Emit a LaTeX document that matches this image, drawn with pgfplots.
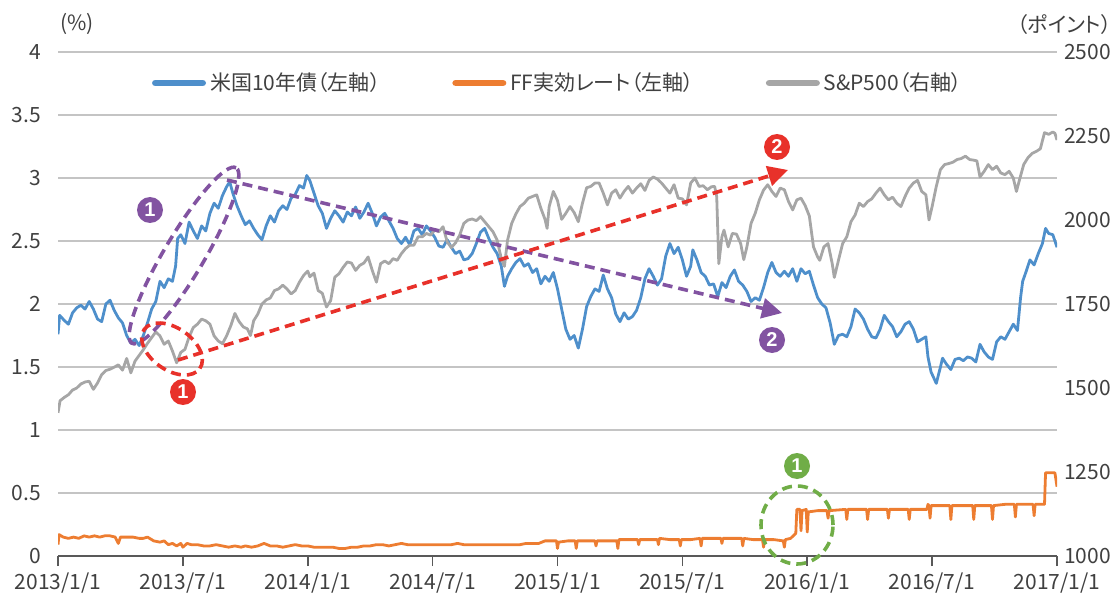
\documentclass[border=0pt]{standalone}
\usepackage{fontspec}
\setmainfont{Noto Sans CJK JP}[RawFeature=+palt]
\newfontfamily\numfont{Liberation Sans}
\usepackage{pgfplots}
\pgfplotsset{compat=1.18}
\usetikzlibrary{arrows.meta}
\definecolor{cblue}{HTML}{4E8FCB}
\definecolor{corange}{HTML}{ED7D31}
\definecolor{cgray}{HTML}{A6A6A6}
\definecolor{gridgray}{HTML}{C4C4C4}
\definecolor{axisgray}{HTML}{595959}
\definecolor{textgray}{HTML}{404040}
\definecolor{cpurple}{HTML}{8253A1}
\definecolor{cred}{HTML}{E8312A}
\definecolor{cgreen}{HTML}{70AD47}

\pgfplotstableread{
m v
0.00 1.76
0.08 1.91
0.3 1.87
0.5 1.84
0.7 1.93
0.9 1.97
1.1 1.99
1.3 1.96
1.5 2.02
1.7 1.96
1.9 1.88
2.1 1.86
2.3 2.00
2.5 2.03
2.7 1.95
2.9 1.89
3.1 1.85
3.3 1.75
3.5 1.69
3.7 1.72
3.9 1.67
4.1 1.75
4.3 1.85
4.5 1.96
4.7 2.02
4.9 2.18
5.1 2.13
5.3 2.20
5.5 2.18
5.65 2.30
5.75 2.52
5.9 2.55
6.1 2.48
6.3 2.65
6.5 2.58
6.7 2.52
6.9 2.62
7.1 2.58
7.3 2.72
7.5 2.80
7.7 2.76
7.9 2.86
8.1 2.93
8.25 2.97
8.4 2.88
8.6 2.78
8.8 2.70
9.0 2.63
9.2 2.66
9.4 2.60
9.6 2.55
9.8 2.51
10.0 2.62
10.2 2.70
10.4 2.65
10.6 2.74
10.8 2.78
11.0 2.75
11.2 2.84
11.4 2.87
11.6 2.94
11.8 2.92
11.95 3.02
12.1 2.98
12.3 2.88
12.5 2.78
12.7 2.72
12.9 2.60
13.1 2.68
13.3 2.74
13.5 2.70
13.7 2.65
13.9 2.73
14.1 2.70
14.3 2.77
14.5 2.68
14.7 2.73
14.9 2.80
15.1 2.72
15.3 2.62
15.5 2.69
15.7 2.72
15.9 2.66
16.1 2.60
16.3 2.52
16.5 2.48
16.7 2.53
16.9 2.47
17.1 2.58
17.3 2.60
17.5 2.55
17.7 2.62
17.9 2.58
18.1 2.53
18.3 2.46
18.5 2.45
18.7 2.51
18.9 2.45
19.1 2.40
19.3 2.42
19.5 2.35
19.7 2.36
19.9 2.40
20.1 2.48
20.3 2.57
20.5 2.60
20.7 2.52
20.9 2.45
21.1 2.40
21.3 2.30
21.45 2.14
21.6 2.22
21.8 2.28
22.0 2.33
22.2 2.36
22.4 2.30
22.6 2.32
22.8 2.25
23.0 2.28
23.2 2.16
23.4 2.22
23.6 2.18
23.8 2.25
24.0 2.12
24.2 1.96
24.4 1.80
24.6 1.72
24.8 1.75
25.0 1.65
25.2 1.80
25.4 1.98
25.6 2.06
25.8 2.12
26.0 2.10
26.2 2.23
26.4 2.12
26.6 2.05
26.8 1.92
27.0 1.86
27.2 1.93
27.4 1.88
27.6 1.90
27.8 1.95
28.0 2.05
28.2 2.20
28.4 2.28
28.6 2.22
28.8 2.15
29.0 2.20
29.2 2.38
29.4 2.48
29.6 2.40
29.8 2.45
30.0 2.35
30.2 2.22
30.4 2.30
30.5 2.43
30.7 2.35
30.9 2.25
31.1 2.22
31.3 2.15
31.5 2.16
31.7 2.06
31.9 2.17
32.1 2.13
32.3 2.22
32.5 2.27
32.7 2.18
32.9 2.15
33.1 2.10
33.3 2.02
33.5 2.05
33.7 2.03
33.9 2.13
34.1 2.25
34.3 2.33
34.5 2.25
34.7 2.22
34.9 2.26
35.1 2.22
35.3 2.28
35.5 2.18
35.7 2.28
35.9 2.24
36.1 2.26
36.3 2.15
36.5 2.05
36.7 2.00
36.9 1.97
37.1 1.85
37.3 1.68
37.5 1.75
37.7 1.76
37.9 1.74
38.1 1.82
38.3 1.96
38.5 1.93
38.7 1.88
38.9 1.80
39.1 1.74
39.3 1.73
39.5 1.80
39.7 1.91
39.9 1.86
40.1 1.82
40.3 1.74
40.5 1.78
40.7 1.84
40.9 1.86
41.1 1.80
41.3 1.70
41.5 1.72
41.7 1.74
41.8 1.58
41.95 1.46
42.2 1.37
42.4 1.50
42.5 1.57
42.7 1.52
42.9 1.48
43.1 1.56
43.3 1.57
43.5 1.55
43.7 1.58
43.9 1.57
44.1 1.54
44.3 1.68
44.5 1.62
44.7 1.58
44.9 1.56
45.1 1.70
45.3 1.74
45.5 1.72
45.7 1.78
45.9 1.84
46.1 1.79
46.25 2.05
46.35 2.18
46.5 2.25
46.7 2.35
46.9 2.31
47.1 2.40
47.3 2.48
47.45 2.60
47.6 2.56
47.8 2.55
47.9 2.50
48.0 2.45
}\tenyear

\pgfplotstableread{
m v
0.00 0.09
0.05 0.17
0.25 0.15
0.5 0.14
0.75 0.15
1.0 0.14
1.25 0.16
1.5 0.15
1.75 0.16
2.0 0.15
2.25 0.16
2.5 0.16
2.75 0.15
2.9 0.10
3.0 0.15
3.3 0.15
3.6 0.15
3.9 0.14
4.1 0.14
4.3 0.15
4.6 0.12
4.9 0.11
5.1 0.12
5.3 0.09
5.5 0.10
5.7 0.08
5.9 0.10
6.0 0.07
6.2 0.10
6.4 0.09
6.7 0.09
7.0 0.08
7.3 0.08
7.6 0.09
7.9 0.08
8.2 0.07
8.5 0.08
8.8 0.07
9.0 0.08
9.3 0.07
9.6 0.08
9.9 0.10
10.2 0.08
10.5 0.08
10.8 0.07
11.1 0.08
11.4 0.09
11.7 0.08
12.0 0.08
12.3 0.07
12.6 0.07
12.9 0.07
13.2 0.07
13.5 0.06
13.8 0.06
14.1 0.07
14.4 0.07
14.7 0.08
15.0 0.08
15.3 0.09
15.6 0.09
15.9 0.08
16.2 0.09
16.5 0.10
16.8 0.09
17.1 0.09
17.4 0.09
17.7 0.09
18.0 0.09
18.3 0.09
18.6 0.09
18.9 0.09
19.2 0.10
19.5 0.09
19.8 0.09
20.1 0.09
20.4 0.09
20.7 0.09
21.0 0.09
21.3 0.09
21.6 0.09
21.9 0.09
22.2 0.09
22.5 0.10
22.8 0.10
23.1 0.10
23.4 0.12
23.7 0.12
23.95 0.12
24.0 0.06
24.05 0.11
24.5 0.12
24.85 0.12
24.9 0.06
24.95 0.12
25.4 0.12
25.8 0.12
25.85 0.08
25.9 0.12
26.4 0.12
26.85 0.12
26.9 0.06
26.95 0.13
27.4 0.13
27.85 0.13
27.9 0.09
27.95 0.13
28.4 0.13
28.8 0.13
28.85 0.09
28.9 0.14
29.4 0.13
29.85 0.13
29.9 0.08
29.95 0.13
30.4 0.13
30.85 0.14
30.9 0.08
30.95 0.14
31.4 0.14
31.85 0.14
31.9 0.10
31.95 0.14
32.4 0.14
32.85 0.14
32.9 0.08
32.95 0.14
33.4 0.13
33.85 0.13
33.9 0.07
33.95 0.13
34.4 0.13
34.85 0.12
34.9 0.07
34.95 0.13
35.2 0.14
35.45 0.18
35.5 0.37
35.65 0.37
35.7 0.20
35.75 0.36
35.95 0.37
36.0 0.19
36.05 0.35
36.5 0.36
36.95 0.36
37.0 0.30
37.05 0.36
37.85 0.37
37.9 0.29
37.95 0.37
38.85 0.37
38.9 0.29
38.95 0.37
39.85 0.37
39.9 0.30
39.95 0.37
40.85 0.37
40.9 0.29
40.95 0.37
41.75 0.37
41.8 0.41
41.85 0.40
41.9 0.30
41.95 0.40
42.85 0.40
42.9 0.29
42.95 0.40
43.95 0.40
44.0 0.29
44.05 0.40
44.85 0.40
44.9 0.29
44.95 0.40
45.5 0.41
45.95 0.41
46.0 0.31
46.05 0.41
46.85 0.41
46.9 0.32
46.95 0.41
47.4 0.41
47.45 0.66
47.9 0.66
48.0 0.55
}\ffrate

\pgfplotstableread{
m v
0.0 1426
0.1 1462
0.3 1472
0.5 1480
0.7 1494
0.9 1500
1.1 1512
1.3 1518
1.5 1520
1.7 1496
1.9 1515
2.1 1540
2.3 1552
2.5 1556
2.7 1562
2.9 1569
3.1 1553
3.3 1588
3.5 1545
3.7 1580
3.9 1597
4.1 1614
4.3 1633
4.5 1650
4.7 1667
4.9 1655
5.1 1630
5.3 1640
5.5 1610
5.7 1575
5.9 1606
6.1 1615
6.3 1652
6.5 1680
6.7 1690
6.9 1705
7.1 1700
7.3 1690
7.5 1655
7.7 1640
7.9 1632
8.1 1655
8.3 1685
8.5 1722
8.7 1698
8.9 1682
9.1 1676
9.25 1656
9.4 1700
9.6 1720
9.8 1750
10.0 1762
10.2 1768
10.4 1790
10.6 1795
10.8 1806
11.0 1795
11.2 1780
11.4 1790
11.6 1815
11.8 1835
12.0 1848
12.1 1831
12.3 1842
12.5 1790
12.7 1782
12.9 1741
13.1 1760
13.3 1830
13.5 1840
13.7 1859
13.9 1875
14.1 1872
14.3 1850
14.5 1865
14.7 1872
14.9 1890
15.1 1850
15.3 1815
15.5 1870
15.7 1878
15.9 1870
16.1 1885
16.3 1880
16.5 1900
16.7 1915
16.9 1925
17.1 1925
17.3 1950
17.5 1950
17.7 1960
17.9 1955
18.1 1970
18.3 1965
18.5 1980
18.7 1935
18.9 1918
19.1 1932
19.3 1955
19.5 1990
19.7 2000
19.9 2003
20.1 1998
20.3 2010
20.5 1995
20.7 1980
20.9 1965
21.1 1940
21.3 1885
21.45 1862
21.6 1940
21.8 1990
22.0 2018
22.2 2040
22.4 2050
22.6 2065
22.8 2070
23.0 2075
23.2 2035
23.4 2002
23.5 1975
23.6 2040
23.8 2085
24.0 2058
24.2 2002
24.4 2020
24.6 2040
24.8 2022
25.0 1995
25.2 2050
25.4 2096
25.6 2100
25.8 2110
26.0 2110
26.2 2080
26.4 2045
26.6 2080
26.8 2090
27.0 2065
27.2 2085
27.4 2100
27.6 2080
27.8 2095
28.0 2108
28.2 2088
28.4 2118
28.6 2128
28.8 2122
29.0 2110
29.2 2095
29.4 2080
29.6 2105
29.8 2065
30.0 2063
30.2 2045
30.4 2110
30.6 2125
30.8 2100
31.0 2102
31.2 2090
31.4 2099
31.55 2100
31.65 2070
31.75 1870
31.9 1950
32.0 1970
32.2 1920
32.4 1960
32.6 1958
32.8 1930
32.95 1882
33.1 1920
33.3 1990
33.5 2020
33.7 2060
33.9 2089
34.1 2105
34.3 2085
34.5 2070
34.7 2095
34.9 2090
35.1 2055
35.3 2030
35.5 2060
35.7 2065
35.9 2043
36.1 2012
36.3 1920
36.5 1890
36.6 1880
36.8 1920
37.0 1930
37.2 1870
37.3 1829
37.5 1880
37.7 1930
37.9 1950
38.1 1995
38.3 2015
38.5 2050
38.7 2040
38.9 2055
39.1 2063
39.3 2080
39.5 2095
39.7 2075
39.9 2060
40.1 2068
40.3 2050
40.5 2040
40.7 2070
40.9 2095
41.1 2110
41.3 2118
41.5 2085
41.7 2075
41.85 2000
42.0 2040
42.2 2100
42.4 2150
42.6 2165
42.8 2168
43.0 2172
43.2 2180
43.4 2183
43.6 2190
43.8 2180
44.0 2178
44.15 2176
44.3 2128
44.5 2145
44.7 2165
44.9 2150
45.1 2160
45.3 2140
45.5 2135
45.7 2145
45.9 2125
46.05 2085
46.2 2120
46.4 2165
46.6 2185
46.8 2198
47.0 2204
47.2 2212
47.4 2260
47.6 2255
47.8 2262
47.9 2258
48.0 2238
}\spx

\begin{document}
\begin{tikzpicture}[font=\fontsize{10.5}{12}\selectfont, text=textgray]
\path[use as bounding box] (-29pt,-20pt) rectangle (531pt,278pt);
\pgfplotsset{
  common/.style={
    at={(0pt,0pt)}, anchor=south west, scale only axis,
    width=499.5pt, height=252pt, xmin=0, xmax=48,
    ticklabel style={text=textgray, font=\fontsize{10.5}{12}\selectfont},
  },
}
\begin{axis}[common,
  ymin=0, ymax=4,
  axis x line*=bottom, axis y line*=left,
  y axis line style={draw=none},
  x axis line style={draw=axisgray, line width=0.8pt},
  xtick={0,6,...,48},
  xticklabels={2013/1/1,2013/7/1,2014/1/1,2014/7/1,2015/1/1,2015/7/1,2016/1/1,2016/7/1,2017/1/1},
  tick align=outside, major tick length=5pt,
  xtick style={draw=axisgray, line width=0.8pt},
  ytick={0,0.5,...,4},
  yticklabels={0,0.5,1,1.5,2,2.5,3,3.5,4},
  ytick style={draw=none},
  ymajorgrids, grid style={draw=gridgray, line width=0.7pt},
  legend columns=3,
  legend style={draw=none, fill=none, at={(0.5015,0.9385)}, anchor=center,
    font=\fontsize{10.5}{12}\selectfont, text=textgray,
    /tikz/every even column/.append style={column sep=34pt}},
  legend image code/.code={\draw[#1, line width=3.4pt, line cap=round] (1.7pt,0pt) -- (25.3pt,0pt);},
]
\addplot[cblue, line width=1.4pt, line join=round] table[x=m, y=v] {\tenyear};
\addlegendentry{米国10年債（左軸）}
\addplot[corange, line width=1.4pt, line join=round] table[x=m, y=v] {\ffrate};
\addlegendentry{FF実効レート（左軸）}
\addlegendimage{cgray, line width=1.4pt}
\addlegendentry{S\&P500（右軸）}
\end{axis}
\begin{axis}[common,
  ymin=1000, ymax=2500,
  axis x line=none, axis y line*=right,
  y axis line style={draw=none},
  ytick={1000,1250,...,2500},
  yticklabels={1000,1250,1500,1750,2000,2250,2500},
  ytick style={draw=none},
]
\addplot[cgray, line width=1.4pt, line join=round] table[x=m, y=v] {\spx};
\end{axis}

% unit labels
\node at (9.5pt,266pt) {(\%)};
\node[anchor=east, inner sep=0pt] at (527pt,265.5pt) {（ポイント）};

% annotations
\tikzset{dsh/.style={line width=1.8pt, dash pattern=on 5pt off 3pt}}
\draw[cpurple, dsh, rotate around={59.3:(63pt,150.25pt)}] (63pt,150.25pt) ellipse (51pt and 10pt);
\draw[cred, dsh, rotate around={-35:(57pt,103.5pt)}] (57pt,103.5pt) ellipse (17pt and 10.5pt);
\draw[cgreen, dsh] (369.5pt,15.5pt) ellipse (18pt and 19.5pt);
\draw[cpurple, dsh, -{Triangle[length=10pt,width=10pt]}] (84.5pt,188pt) -- (362pt,121.5pt);
\draw[cred, dsh, -{Triangle[length=10pt,width=10pt]}] (60pt,98pt) -- (365pt,193pt);
\tikzset{num/.style={circle, fill=#1, text=white, minimum size=13pt, inner sep=0pt, font=\numfont\bfseries\fontsize{10}{10}\selectfont}}
\node[num=cpurple] at (46pt,173pt) {1};
\node[num=cpurple] at (357pt,108pt) {2};
\node[num=cred] at (62.5pt,82pt) {1};
\node[num=cred] at (359.5pt,204.5pt) {2};
\node[num=cgreen] at (369.5pt,45pt) {1};
\end{tikzpicture}
\end{document}
